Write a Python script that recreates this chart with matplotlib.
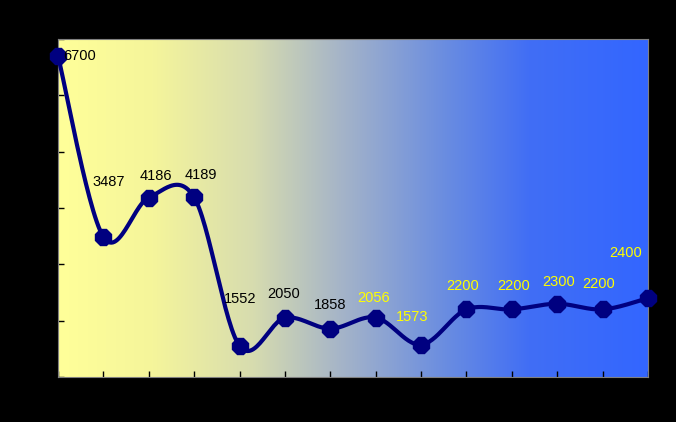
import numpy as np
import matplotlib
matplotlib.use("Agg")
import matplotlib.pyplot as plt
from matplotlib.colors import LinearSegmentedColormap

# data
values = [6700, 3487, 4186, 4189, 1552, 2050, 1858, 2056, 1573, 2200, 2200, 2300, 2200, 2400]
labels = [str(v) for v in values]
y_ticks = [1000, 2000, 3000, 4000, 5000, 6000, 7000]

# label placement (pixel offsets from the point) and colours
label_dx = [22, 5, 7, 7, 1, -1, 0, -2, -9, -4, 2, 1, -4, -22]
label_dy = [0, 55, 22, 22, 47, 24, 24, 20, 28, 23, 23, 22, 25, 45]
label_col = ['black'] * 7 + ['#FFFF00'] * 7

NAVY = '#000080'


def smooth_curve(xs, ys, n=30):
    # Catmull-Rom spline through the points, as cubic Bezier segments
    pts = np.column_stack([xs, ys]).astype(float)
    ext = np.vstack([pts[0], pts, pts[-1]])
    out = []
    t = np.linspace(0, 1, n)[:, None]
    for i in range(len(pts) - 1):
        p0, p1, p2, p3 = ext[i], ext[i + 1], ext[i + 2], ext[i + 3]
        c1 = p1 + (p2 - p0) / 6.0
        c2 = p2 - (p3 - p1) / 6.0
        seg = ((1 - t) ** 3) * p1 + 3 * ((1 - t) ** 2) * t * c1 + 3 * (1 - t) * t ** 2 * c2 + t ** 3 * p2
        out.append(seg if i == 0 else seg[1:])
    out = np.vstack(out)
    return out[:, 0], out[:, 1]


fig = plt.figure(figsize=(6.76, 4.22), dpi=100, facecolor='black')
ax = fig.add_axes([58 / 676, 45 / 422, 590 / 676, 338 / 422])

x = np.arange(len(values))
ax.set_xlim(0, len(values) - 1)
ax.set_ylim(1000, 7000)

# yellow -> blue gradient background
grad = LinearSegmentedColormap.from_list('bg', [
    (0.0, '#FFFF99'), (0.16, '#F5F59B'), (0.33, '#D7DCAF'),
    (0.48, '#A5B4C8'), (0.66, '#698CE1'), (0.8, '#416EF5'), (1.0, '#3366FF')])
ax.imshow(np.linspace(0, 1, 256)[None, :], cmap=grad, aspect='auto',
          extent=[0, len(values) - 1, 1000, 7000], zorder=0)

sx, sy = smooth_curve(x, values)
ax.plot(sx, sy, color=NAVY, lw=3, zorder=3)
ax.plot(x, values, linestyle='none', marker='8', markersize=12,
        color=NAVY, zorder=4, clip_on=False)

for xi, v, lab, dx, dy, c in zip(x, values, labels, label_dx, label_dy, label_col):
    ax.annotate(lab, (xi, v), xytext=(dx, dy), textcoords='offset pixels',
                ha='center', va='center', fontsize=10.5, color=c,
                family='Liberation Sans', zorder=5)

ax.set_xticks(x)
ax.set_yticks(y_ticks)
ax.set_xticklabels([])
ax.set_yticklabels([])
ax.tick_params(direction='in', length=4, width=1, color='black')
for s in ax.spines.values():
    s.set_color('#808080')
    s.set_linewidth(0.8)

fig.savefig('out.png', dpi=100, facecolor='black')
